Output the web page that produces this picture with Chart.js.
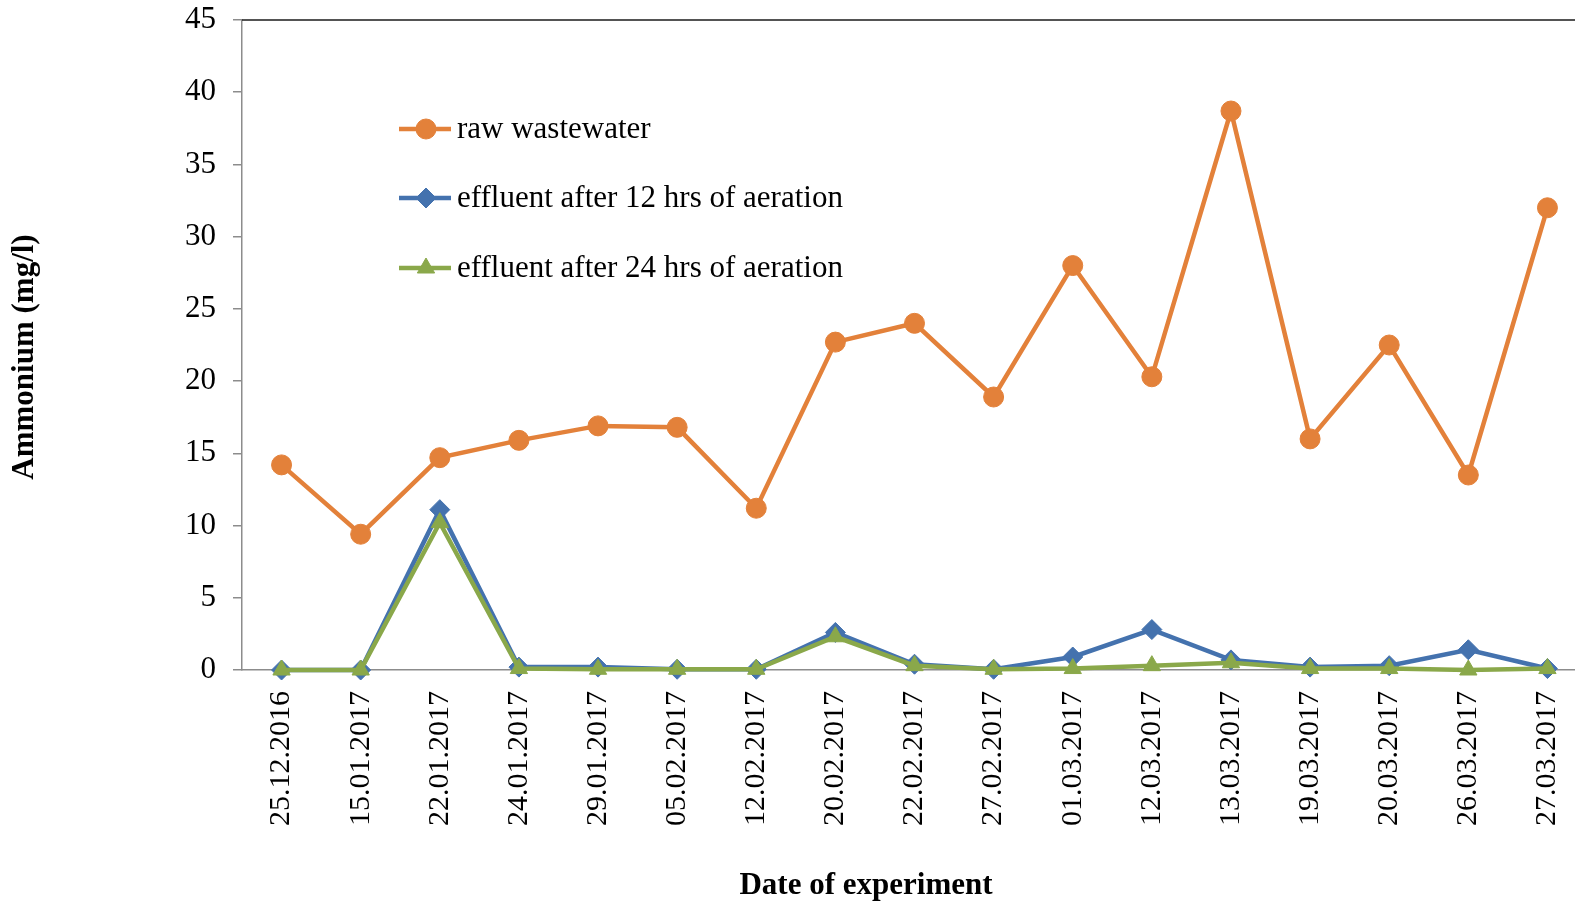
<!DOCTYPE html>
<html>
<head>
<meta charset="utf-8">
<title>Ammonium concentration by date of experiment</title>
<script src="https://cdn.jsdelivr.net/npm/chart.js@4/dist/chart.umd.min.js"></script>
<style>
  html, body { margin: 0; padding: 0; background: #ffffff; overflow: hidden; }
  #wrap { position: relative; width: 1587px; height: 905px; }
</style>
</head>
<body>
<div id="wrap"><canvas id="chart" width="1587" height="905"></canvas></div>
<script>
// Sampling dates
const dates = [
  '25.12.2016', '15.01.2017', '22.01.2017', '24.01.2017', '29.01.2017',
  '05.02.2017', '12.02.2017', '20.02.2017', '22.02.2017', '27.02.2017',
  '01.03.2017', '12.03.2017', '13.03.2017', '19.03.2017', '20.03.2017',
  '26.03.2017', '27.03.2017'
];

// Ammonium, mg/l
const rawWastewater = [14.2, 9.4, 14.7, 15.9, 16.9, 16.8, 11.2, 22.7, 24.0, 18.9, 28.0, 20.3, 38.7, 16.0, 22.5, 13.5, 32.0];
const effluent12h   = [0.0, 0.0, 11.1, 0.2, 0.2, 0.05, 0.05, 2.6, 0.4, 0.05, 0.9, 2.8, 0.7, 0.2, 0.3, 1.4, 0.1];
const effluent24h   = [0.0, 0.0, 10.2, 0.1, 0.05, 0.05, 0.05, 2.3, 0.3, 0.05, 0.1, 0.3, 0.5, 0.1, 0.1, 0.0, 0.1];

const seriesNames = ['raw wastewater', 'effluent after 12 hrs of aeration', 'effluent after 24 hrs of aeration'];
const yTicks = [0, 5, 10, 15, 20, 25, 30, 35, 40, 45];
const xTitle = 'Date of experiment';
const yTitle = 'Ammonium (mg/l)';

const ORANGE = '#E3813A';
const BLUE = '#4472AE';
const GREEN = '#8AA84A';
const AXIS_GREY = '#8C8C8C';
const SERIF = '"Liberation Serif", "Times New Roman", serif';

// Legend drawn inside the plot area, one row per series
const innerLegend = {
  id: 'innerLegend',
  afterDraw(chart) {
    const ctx = chart.ctx;
    const rows = [129, 198, 268];
    const x0 = 399, x1 = 451, xm = 426, xt = 457;
    ctx.save();
    chart.data.datasets.forEach((ds, i) => {
      const y = rows[i];
      ctx.strokeStyle = ds.borderColor;
      ctx.lineWidth = ds.borderWidth;
      ctx.beginPath();
      ctx.moveTo(x0, y);
      ctx.lineTo(x1, y);
      ctx.stroke();
      const style = { pointStyle: ds.pointStyle, rotation: 0, radius: ds.pointRadius, borderWidth: 1 };
      ctx.fillStyle = ds.pointBackgroundColor;
      ctx.strokeStyle = ds.pointBorderColor;
      ctx.lineWidth = 1;
      Chart.helpers.drawPoint(ctx, style, xm, y);
      ctx.fillStyle = '#000000';
      ctx.font = '31px ' + SERIF;
      ctx.textAlign = 'left';
      ctx.textBaseline = 'middle';
      ctx.fillText(ds.label, xt, y + 1);
    });
    ctx.restore();
  }
};

// Dark rule along the top of the plot area, plus both axis titles
const frameAndTitles = {
  id: 'frameAndTitles',
  afterDraw(chart) {
    const {ctx, chartArea} = chart;
    ctx.save();
    ctx.strokeStyle = '#1a1a1a';
    ctx.lineWidth = 1.5;
    ctx.beginPath();
    ctx.moveTo(chartArea.left, chartArea.top);
    ctx.lineTo(chart.width, chartArea.top);
    ctx.stroke();

    ctx.fillStyle = '#000000';
    ctx.font = 'bold 31px ' + SERIF;
    ctx.textAlign = 'center';
    ctx.textBaseline = 'middle';
    ctx.fillText(xTitle, 866, 886);

    ctx.translate(25, 357);
    ctx.rotate(-Math.PI / 2);
    ctx.fillText(yTitle, 0, 0);
    ctx.restore();
  }
};

function series(label, data, color, style, order) {
  return {
    label: label,
    data: data,
    borderColor: color,
    backgroundColor: color,
    pointBackgroundColor: color,
    pointBorderColor: color,
    borderWidth: 4.5,
    pointStyle: style,
    pointRadius: 10,
    pointHoverRadius: 10,
    pointBorderWidth: 1,
    tension: 0,
    fill: false,
    clip: false,
    order: order
  };
}

new Chart(document.getElementById('chart'), {
  type: 'line',
  data: {
    labels: dates,
    datasets: [
      series(seriesNames[0], rawWastewater, ORANGE, 'circle', 2),
      series(seriesNames[1], effluent12h, BLUE, 'rectRot', 1),
      series(seriesNames[2], effluent24h, GREEN, 'triangle', 0)
    ]
  },
  options: {
    responsive: false,
    animation: false,
    layout: {
      autoPadding: false,
      padding: { top: 20, right: 0, bottom: 0, left: 0 }
    },
    plugins: {
      legend: { display: false },
      tooltip: { enabled: false }
    },
    scales: {
      x: {
        type: 'category',
        offset: true,
        grid: { display: false, drawTicks: false },
        border: { display: true, color: AXIS_GREY, width: 1.5 },
        ticks: {
          color: '#000000',
          font: { family: SERIF, size: 30 },
          minRotation: 90,
          maxRotation: 90,
          padding: 21,
          autoSkip: false
        },
        afterFit(scale) {
          scale.height = 235;
          scale.paddingLeft = 0;
          scale.paddingRight = 0;
        }
      },
      y: {
        min: 0,
        max: 45,
        afterBuildTicks(scale) { scale.ticks = yTicks.map(v => ({ value: v })); },
        grid: {
          display: true,
          drawOnChartArea: false,
          drawTicks: true,
          tickLength: 9,
          color: AXIS_GREY,
          lineWidth: 1.5
        },
        border: { display: true, color: AXIS_GREY, width: 1.5 },
        ticks: {
          color: '#000000',
          font: { family: SERIF, size: 31 },
          padding: 17
        },
        afterFit(scale) {
          scale.width = 242;
          scale.paddingTop = 0;
          scale.paddingBottom = 0;
        }
      }
    }
  },
  plugins: [innerLegend, frameAndTitles]
});
</script>
</body>
</html>
